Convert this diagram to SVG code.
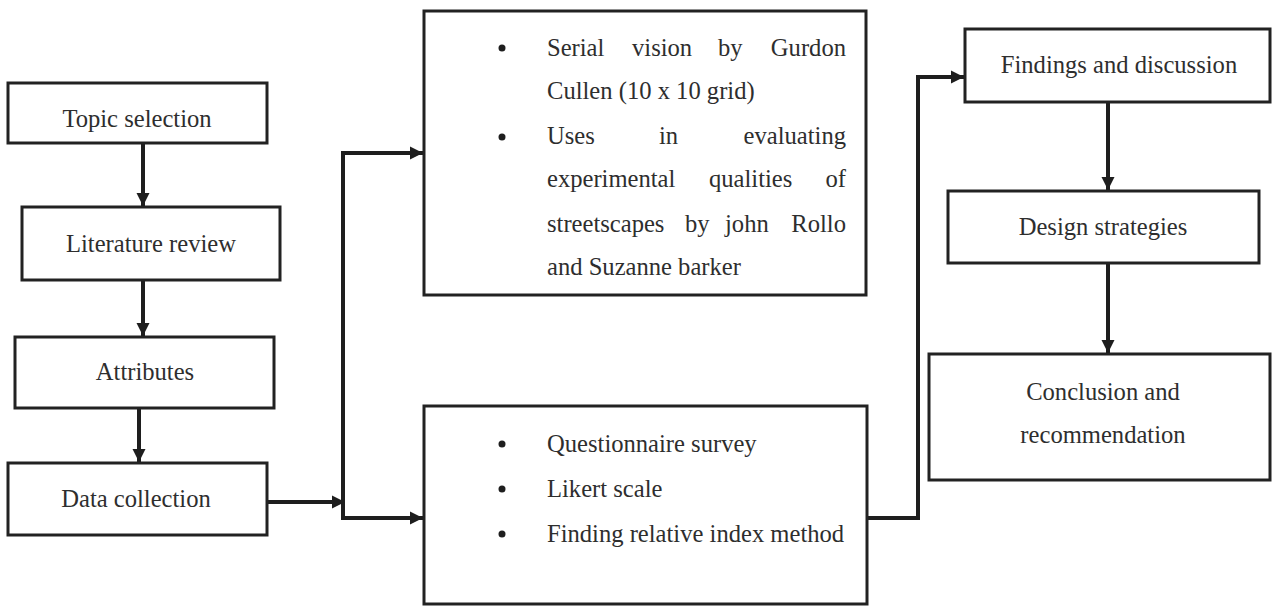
<svg xmlns="http://www.w3.org/2000/svg" width="1273" height="606" viewBox="0 0 1273 606">
<style>
.box{fill:#fff;stroke:#222;stroke-width:3}
.t{font-family:"Liberation Serif","Times New Roman",serif;font-size:24.6px;fill:#2e2e2e}
.c{text-anchor:middle}
.e{text-anchor:end}
.ln{fill:none;stroke:#1e1e1e;stroke-width:4}
.dot{fill:#1e1e1e}
</style>
<defs>
<marker id="ah" viewBox="0 0 10 10" refX="10" refY="5" markerWidth="3.3" markerHeight="3.3" orient="auto" markerUnits="strokeWidth">
<path d="M0,0 L10,5 L0,10 z" fill="#1e1e1e"/>
</marker>
</defs>
<rect width="1273" height="606" fill="#fff"/>
<g id="connectors">
<line class="ln" x1="143" y1="143" x2="143" y2="206" marker-end="url(#ah)"/>
<line class="ln" x1="143" y1="280" x2="143" y2="336" marker-end="url(#ah)"/>
<line class="ln" x1="139" y1="408" x2="139" y2="462" marker-end="url(#ah)"/>
<line class="ln" x1="267" y1="502" x2="345" y2="502" marker-end="url(#ah)"/>
<polyline class="ln" points="343,153 343,518 423,518" marker-end="url(#ah)"/>
<polyline class="ln" points="343,155 343,153 423,153" marker-end="url(#ah)"/>
<polyline class="ln" points="867,518 918,518 918,77 964,77" marker-end="url(#ah)"/>
<line class="ln" x1="1108" y1="102" x2="1108" y2="190" marker-end="url(#ah)"/>
<line class="ln" x1="1108" y1="263" x2="1108" y2="353" marker-end="url(#ah)"/>
</g>
<g id="topic">
<rect class="box" x="8" y="83" width="259" height="60"/>
<text class="t c" x="137" y="127">Topic selection</text>
</g>
<g id="literature">
<rect class="box" x="22" y="207" width="258" height="73"/>
<text class="t c" x="151" y="252">Literature review</text>
</g>
<g id="attributes">
<rect class="box" x="15" y="337" width="259" height="71"/>
<text class="t c" x="145" y="380">Attributes</text>
</g>
<g id="data">
<rect class="box" x="8" y="463" width="259" height="72"/>
<text class="t c" x="136" y="507">Data collection</text>
</g>
<g id="methods-top">
<rect class="box" x="424" y="11" width="442" height="284"/>
<circle class="dot" cx="502" cy="48" r="3.5"/>
<circle class="dot" cx="502" cy="137" r="3.5"/>
<text class="t" x="547" y="56">Serial</text>
<text class="t" x="632" y="56">vision</text>
<text class="t" x="718" y="56">by</text>
<text class="t e" x="846" y="56">Gurdon</text>
<text class="t" x="547" y="99">Cullen (10 x 10 grid)</text>
<text class="t" x="547" y="144">Uses</text>
<text class="t" x="659" y="144">in</text>
<text class="t e" x="846" y="144">evaluating</text>
<text class="t" x="547" y="187">experimental</text>
<text class="t" x="709" y="187">qualities</text>
<text class="t e" x="846" y="187">of</text>
<text class="t" x="547" y="232">streetscapes</text>
<text class="t" x="685" y="232">by</text>
<text class="t" x="725" y="232">john</text>
<text class="t e" x="846" y="232">Rollo</text>
<text class="t" x="547" y="275">and Suzanne barker</text>
</g>
<g id="methods-bottom">
<rect class="box" x="424" y="406" width="443" height="198"/>
<circle class="dot" cx="502" cy="444" r="3.5"/>
<circle class="dot" cx="502" cy="489" r="3.5"/>
<circle class="dot" cx="502" cy="534" r="3.5"/>
<text class="t" x="547" y="452">Questionnaire survey</text>
<text class="t" x="547" y="497">Likert scale</text>
<text class="t" x="547" y="542">Finding relative index method</text>
</g>
<g id="findings">
<rect class="box" x="965" y="29" width="305" height="73"/>
<text class="t c" x="1119" y="73">Findings and discussion</text>
</g>
<g id="design">
<rect class="box" x="948" y="191" width="311" height="72"/>
<text class="t c" x="1103" y="235">Design strategies</text>
</g>
<g id="conclusion">
<rect class="box" x="929" y="354" width="341" height="126"/>
<text class="t c" x="1103" y="400">Conclusion and</text>
<text class="t c" x="1103" y="443">recommendation</text>
</g>
</svg>
